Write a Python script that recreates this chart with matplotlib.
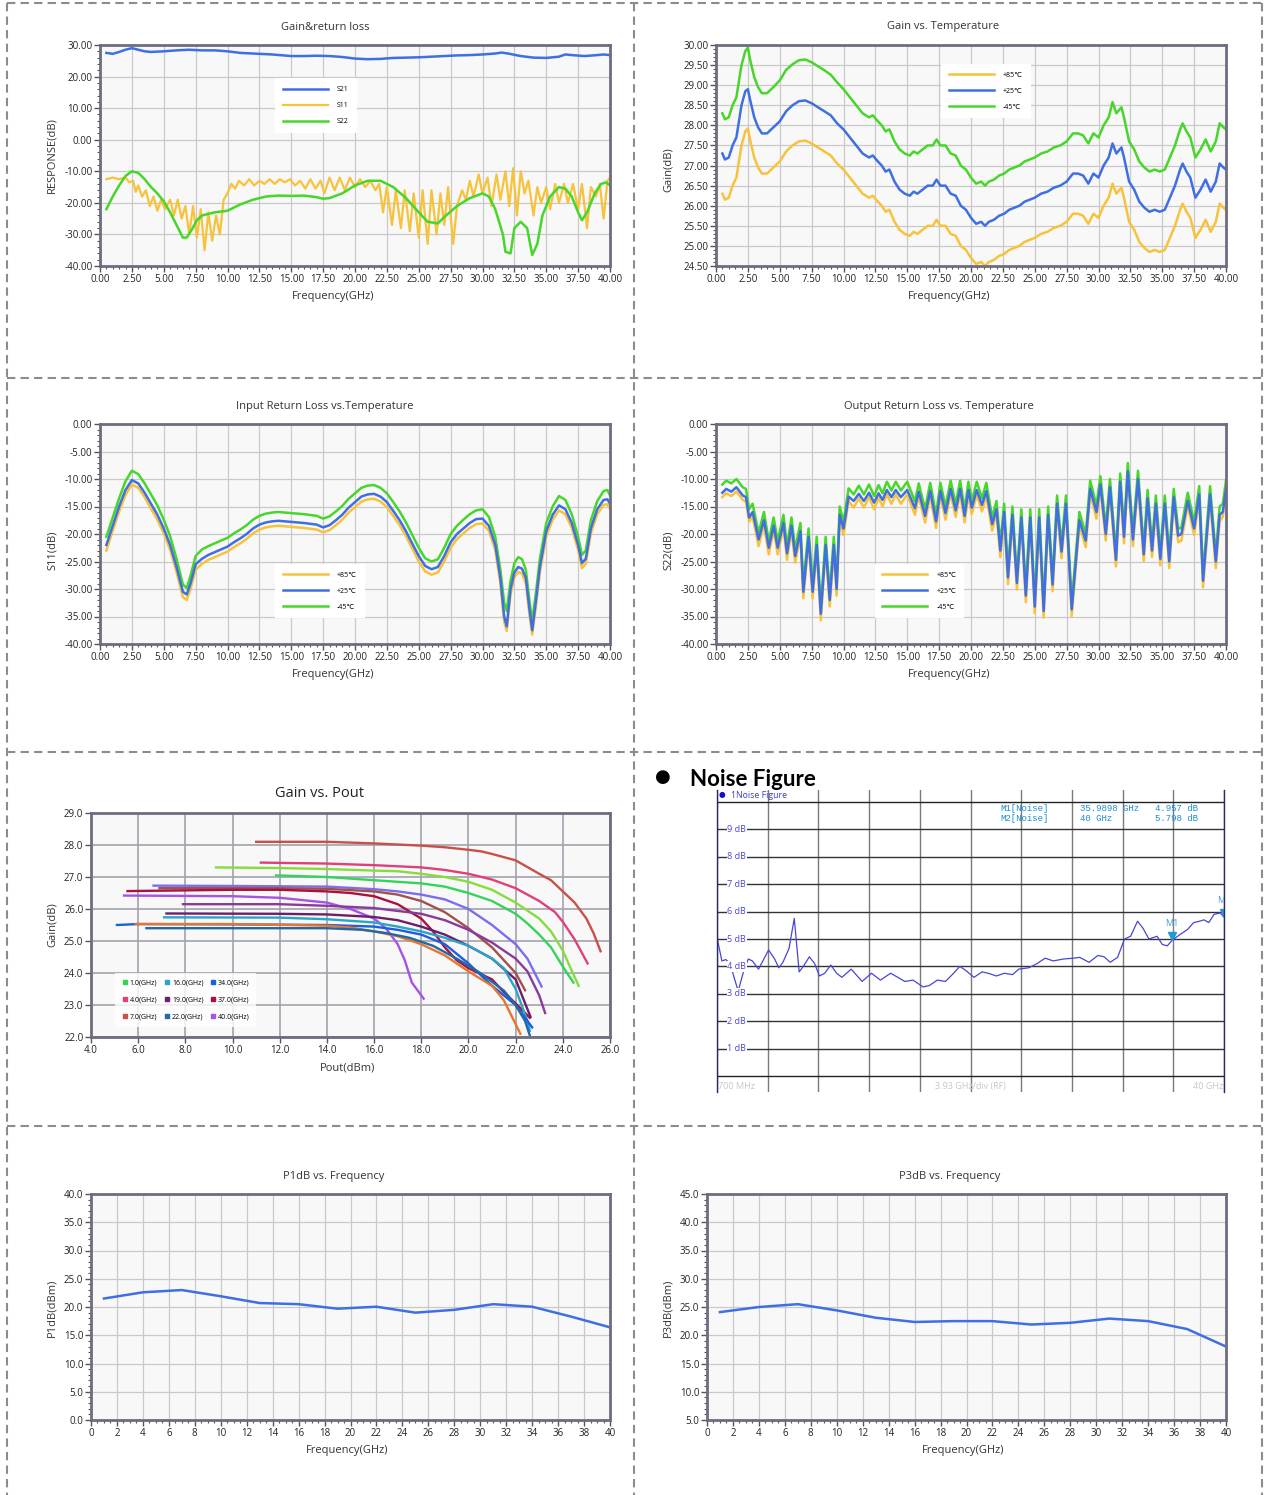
import numpy as np
import matplotlib
matplotlib.use('Agg')
import matplotlib.pyplot as plt
from matplotlib.lines import Line2D
from matplotlib.ticker import MultipleLocator, FormatStrFormatter
from matplotlib.transforms import offset_copy

W, H = 1272, 1495
plt.rcParams['font.family'] = ['Open Sans', 'DejaVu Sans']

BLUE = '#3f6fe3'
YELLOW = '#f7c23c'
GREEN = '#47d62a'
FACE = '#f8f8f8'
GRID = '#c9c9c9'
SPINE = '#6d6d80'

# ---- Gain & return loss ----
s21_f = [0.5, 1.0, 1.5, 2.0, 2.5, 3.0, 3.5, 4.0, 5.0, 6.0, 7.0, 8.0, 9.0, 10.0, 11.0, 12.5, 13.5, 15.0, 16.0, 17.0,
         18.0, 19.0, 20.0, 21.0, 22.0, 23.0, 24.0, 25.0, 26.0, 27.0, 28.0, 29.0, 30.0, 31.0, 31.5, 32.0, 33.0, 34.0,
         35.0, 36.0, 36.5, 37.0, 38.0, 39.0, 39.5, 40.0]
s21 = [27.5, 27.2, 27.8, 28.5, 29.0, 28.5, 28.0, 27.8, 28.0, 28.3, 28.5, 28.3, 28.3, 28.0, 27.5, 27.2, 27.0, 26.5,
       26.5, 26.6, 26.5, 26.2, 25.7, 25.5, 25.6, 25.9, 26.0, 26.1, 26.3, 26.5, 26.7, 26.8, 27.0, 27.3, 27.6, 27.3,
       26.5, 26.0, 25.9, 26.3, 27.0, 26.8, 26.5, 26.8, 27.0, 26.8]
s11_f = [0.5, 1.0, 1.5, 2.0, 2.3, 2.6, 2.8, 3.0, 3.3, 3.6, 3.9, 4.2, 4.5, 4.8, 5.1, 5.5, 5.8, 6.1, 6.4, 6.7,
         7.0, 7.3, 7.6, 7.9, 8.2, 8.5, 8.8, 9.1, 9.4, 9.7, 10.0, 10.3, 10.6, 10.9, 11.3, 11.7, 12.1, 12.5, 12.9, 13.3,
         13.7, 14.1, 14.5, 14.9, 15.3, 15.7, 16.1, 16.5, 16.9, 17.3, 17.6, 18.0, 18.4, 18.8, 19.2, 19.6, 20.0, 20.4,
         20.8, 21.2, 21.6, 21.9, 22.2, 22.5, 22.9, 23.2, 23.6, 23.9, 24.3, 24.6, 25.0, 25.3, 25.7, 26.0, 26.4, 26.7,
         27.0, 27.3, 27.7, 28.0, 28.4, 28.7, 29.0, 29.3, 29.7, 30.0, 30.4, 30.7, 31.1, 31.4, 31.8, 32.1, 32.4, 32.7,
         33.0, 33.3, 33.6, 34.0, 34.3, 34.6, 35.0, 35.3, 35.7, 36.0, 36.4, 36.7, 37.1, 37.5, 37.8, 38.2, 38.5, 38.9,
         39.2, 39.5, 39.8, 40.0]
s11 = [-12.5, -12, -12.5, -12, -13.5, -13, -16.5, -14.5, -18, -16, -21, -18, -22.5, -19, -22, -19, -24, -19, -25, -21,
       -30, -21, -31, -22, -35, -23, -32, -24, -30, -19, -17, -14, -15.5, -13, -14.5, -12.5, -14.5, -13, -14, -12.5,
       -14, -12.5, -13.5, -12.5, -14.5, -13, -15.5, -12.5, -15.5, -13, -17, -12, -16, -12, -16, -12, -15, -12.5,
       -15, -13, -16, -14, -23, -15, -27, -16, -28, -16, -29, -17, -31, -16, -33, -16, -30, -17,
       -27, -15, -33, -21, -16, -19, -13, -18, -11, -17, -12, -21, -11, -19, -10, -21, -9, -24,
       -10, -17, -13, -24, -15, -20, -15, -22, -14, -20, -14, -20, -14, -22, -14, -28, -15, -18,
       -14, -25, -13, -12]
s22_f = [0.5, 1.0, 1.5, 2.0, 2.5, 3.0, 3.5, 4.0, 4.5, 5.0, 5.5, 6.0, 6.5, 6.8, 7.2, 7.6, 8.0, 8.5, 9.0, 10.0,
         11.0, 12.0, 13.0, 14.0, 15.0, 16.0, 17.0, 17.5, 18.0, 19.0, 20.0, 21.0, 22.0, 23.0, 24.0, 25.0, 25.7, 26.5,
         27.0, 28.0, 29.0, 30.0, 30.5, 31.0, 31.6, 31.8, 32.2, 32.5, 33.0, 33.5, 33.9, 34.3, 34.7, 35.3, 36.0, 36.5,
         37.0, 37.5, 37.8, 38.2, 38.8, 39.3, 39.7, 40.0]
s22 = [-22, -18, -14.5, -11.5, -10, -10.5, -12.5, -15, -17, -19.5, -23, -27, -31, -31, -28.5, -25.5, -24, -23.5, -23,
       -22.5, -20.5, -19, -18, -17.7, -17.8, -17.7, -18.2, -18.7, -18.5, -17, -14.5, -13, -13, -15, -18.5, -23, -26,
       -26.5, -24.5, -21, -18.5, -17, -18, -22, -30, -35.5, -36, -28, -26, -28, -36.5, -33, -24, -18, -15, -15.5,
       -18, -23, -25.5, -23, -17, -14, -13.5, -14.5]

# ---- Gain vs temperature ----
gt_f = [0.5, 0.7, 1.0, 1.3, 1.6, 2.0, 2.3, 2.5, 2.7, 3.0, 3.3, 3.6, 4.0, 4.5, 5.0, 5.5, 6.0, 6.5, 7.0, 7.5,
        8.0, 8.5, 9.0, 9.5, 10.0, 10.5, 11.0, 11.5, 12.0, 12.3, 12.7, 13.0, 13.3, 13.6, 14.0, 14.4, 14.8, 15.2, 15.5,
        15.8, 16.2, 16.6, 17.0, 17.3, 17.6, 18.0, 18.4, 18.8, 19.2, 19.6, 20.0, 20.4, 20.8, 21.1, 21.4, 21.8, 22.2,
        22.6, 23.0, 23.4, 23.8, 24.2, 24.6, 25.0, 25.5, 26.0, 26.5, 27.0, 27.5, 28.0, 28.4, 28.8, 29.2, 29.6, 30.0,
        30.4, 30.8, 31.1, 31.4, 31.8, 32.0, 32.4, 32.8, 33.2, 33.6, 34.0, 34.4, 34.8, 35.2, 35.6, 36.0, 36.4, 36.6,
        36.9, 37.2, 37.6, 38.0, 38.4, 38.8, 39.2, 39.5, 39.8, 40.0]
gt_p25 = [27.3, 27.15, 27.2, 27.5, 27.7, 28.5, 28.85, 28.9, 28.6, 28.2, 27.95, 27.8, 27.8, 27.95, 28.1, 28.35, 28.5,
          28.6, 28.62, 28.55, 28.45, 28.35, 28.25, 28.05, 27.9, 27.7, 27.5, 27.3, 27.2, 27.25, 27.1, 27.0, 26.85,
          26.9, 26.6, 26.4, 26.3, 26.25, 26.35, 26.3, 26.4, 26.5, 26.5, 26.65, 26.5, 26.5, 26.3, 26.25, 26.0, 25.9,
          25.7, 25.55, 25.6, 25.5, 25.6, 25.65, 25.75, 25.8, 25.9, 25.95, 26.0, 26.1, 26.15, 26.2, 26.3, 26.35,
          26.45, 26.5, 26.6, 26.8, 26.8, 26.75, 26.55, 26.8, 26.7, 27.0, 27.2, 27.55, 27.3, 27.45, 27.2, 26.6, 26.4,
          26.1, 25.95, 25.85, 25.9, 25.85, 25.9, 26.2, 26.5, 26.9, 27.05, 26.85, 26.7, 26.2, 26.4, 26.65, 26.35,
          26.6, 27.05, 26.95, 26.9]
gt_m45 = [28.3, 28.15, 28.2, 28.5, 28.7, 29.5, 29.85, 29.93, 29.6, 29.2, 28.95, 28.8, 28.8, 28.95, 29.12, 29.38,
          29.52, 29.62, 29.64, 29.57, 29.47, 29.37, 29.26, 29.07, 28.9, 28.7, 28.5, 28.3, 28.2, 28.25, 28.1, 28.0,
          27.85, 27.9, 27.6, 27.4, 27.3, 27.25, 27.35, 27.3, 27.4, 27.5, 27.5, 27.65, 27.5, 27.5, 27.3, 27.25, 27.0,
          26.9, 26.7, 26.55, 26.6, 26.5, 26.6, 26.65, 26.75, 26.8, 26.9, 26.95, 27.0, 27.1, 27.15, 27.2, 27.3, 27.35,
          27.45, 27.5, 27.6, 27.8, 27.8, 27.75, 27.55, 27.8, 27.7, 28.0, 28.2, 28.58, 28.3, 28.45, 28.2, 27.6, 27.4,
          27.1, 26.95, 26.85, 26.9, 26.85, 26.9, 27.2, 27.5, 27.9, 28.05, 27.85, 27.7, 27.2, 27.4, 27.65, 27.35,
          27.6, 28.05, 27.95, 27.9]
gt_p85 = [26.3, 26.15, 26.2, 26.5, 26.7, 27.5, 27.85, 27.92, 27.6, 27.2, 26.95, 26.8, 26.8, 26.95, 27.1, 27.35, 27.5,
          27.6, 27.62, 27.55, 27.45, 27.35, 27.25, 27.05, 26.9, 26.7, 26.5, 26.3, 26.2, 26.25, 26.1, 26.0, 25.85,
          25.9, 25.6, 25.4, 25.3, 25.25, 25.35, 25.3, 25.4, 25.5, 25.5, 25.65, 25.5, 25.5, 25.3, 25.25, 25.0, 24.9,
          24.7, 24.55, 24.6, 24.5, 24.6, 24.65, 24.75, 24.8, 24.9, 24.95, 25.0, 25.1, 25.15, 25.2, 25.3, 25.35,
          25.45, 25.5, 25.6, 25.8, 25.8, 25.75, 25.55, 25.8, 25.7, 26.0, 26.2, 26.55, 26.3, 26.45, 26.2, 25.6, 25.4,
          25.1, 24.95, 24.85, 24.9, 24.85, 24.9, 25.2, 25.5, 25.9, 26.05, 25.85, 25.7, 25.2, 25.4, 25.65, 25.35,
          25.6, 26.05, 25.95, 25.9]

# ---- Input return loss vs temperature ----
irl_f = [0.5, 1.0, 1.5, 2.0, 2.5, 3.0, 3.5, 4.0, 4.5, 5.0, 5.5, 6.0, 6.5, 6.8, 7.1, 7.5, 8.0, 8.5, 9.0, 9.5,
         10.0, 10.5, 11.0, 11.5, 12.0, 12.5, 13.0, 13.5, 14.0, 15.0, 16.0, 17.0, 17.5, 18.0, 18.5, 19.0, 19.5, 20.0,
         20.5, 21.0, 21.5, 22.0, 22.5, 23.0, 23.5, 24.0, 24.5, 25.0, 25.5, 26.0, 26.5, 27.0, 27.5, 28.0, 28.5, 29.0,
         29.5, 30.0, 30.5, 31.0, 31.4, 31.7, 31.9, 32.2, 32.5, 32.8, 33.1, 33.4, 33.7, 33.9, 34.2, 34.5, 35.0, 35.5,
         36.0, 36.5, 37.0, 37.5, 37.8, 38.1, 38.5, 39.0, 39.5, 39.8, 40.0]
irl_p25 = [-22, -18.5, -15, -12, -10.2, -10.8, -12.5, -14.5, -16.5, -19, -22, -26, -30.5, -31, -29, -25.5, -24.5,
           -23.8, -23.3, -22.8, -22.3, -21.5, -20.8, -20, -19, -18.3, -17.9, -17.7, -17.6, -17.8, -18, -18.3, -18.8,
           -18.4, -17.5, -16.5, -15.2, -14.2, -13.2, -12.8, -12.7, -13.2, -14.2, -15.8, -17.5, -19.5, -21.8, -24,
           -25.8, -26.4, -26, -24, -21.5, -20, -19, -18, -17.3, -17.2, -18.5, -22, -28, -35, -36.8, -30, -27, -26,
           -26.3, -28, -34, -37.5, -32, -26, -19.5, -16.5, -14.8, -15.5, -18, -22, -25.3, -24.5, -19, -15.5, -13.8,
           -13.7, -14.5]
irl_m45 = [-20.5, -17, -13.5, -10.4, -8.5, -9.1, -10.8, -12.8, -14.8, -17.4, -20.4, -24.5, -29.2, -29.8, -27.6, -24,
           -22.8, -22.2, -21.7, -21.2, -20.7, -19.9, -19.2, -18.4, -17.4, -16.7, -16.3, -16.1, -16, -16.2, -16.4,
           -16.7, -17.2, -16.8, -15.9, -14.9, -13.6, -12.6, -11.6, -11.2, -11.1, -11.6, -12.6, -14.2, -15.9, -17.9,
           -20.2, -22.5, -24.4, -25, -24.6, -22.5, -20, -18.5, -17.4, -16.4, -15.7, -15.5, -16.9, -20.5, -26.5,
           -32.5, -34, -28.5, -25.3, -24.2, -24.6, -26.5, -32.5, -35.8, -30.5, -24.5, -18, -15, -13.1, -13.8, -16.4,
           -20.5, -23.8, -23, -17.5, -14, -12.2, -12, -13]
irl_p85 = [-23, -19.4, -15.9, -12.9, -11, -11.6, -13.3, -15.4, -17.4, -19.9, -22.9, -26.9, -31.5, -32, -30, -26.5,
           -25.4, -24.7, -24.2, -23.7, -23.2, -22.4, -21.7, -20.9, -19.9, -19.2, -18.8, -18.6, -18.5, -18.7, -18.9,
           -19.2, -19.7, -19.3, -18.4, -17.4, -16.1, -15.1, -14.1, -13.7, -13.6, -14.1, -15.1, -16.7, -18.4, -20.4,
           -22.7, -25, -26.8, -27.4, -27, -25, -22.5, -20.9, -19.9, -18.9, -18.2, -18.1, -19.4, -22.9, -29, -36,
           -37.6, -31, -27.9, -26.9, -27.2, -29, -35, -38.3, -33, -27, -20.4, -17.4, -15.7, -16.4, -18.9, -22.9,
           -26.2, -25.4, -19.9, -16.4, -14.7, -14.6, -15.4]

# ---- Output return loss vs temperature ----
orl_f = [0.5, 0.8, 1.2, 1.6, 2.1, 2.35, 2.6, 2.87,
         3.34, 3.76, 4.14, 4.52, 4.84, 5.29, 5.57, 5.92, 6.21, 6.62, 6.85, 7.26, 7.58, 7.9, 8.22, 8.6, 8.92, 9.24, 9.46,
         9.7, 10.0, 10.4, 10.8, 11.2, 11.6, 12.0, 12.4, 12.75, 13.06, 13.4, 13.76, 14.1, 14.5, 15.0, 15.6, 15.9, 16.4,
         16.8, 17.26, 17.6, 18.0, 18.4, 18.8, 19.15, 19.5, 19.8, 20.06, 20.45, 20.86, 21.2, 21.66,
         22.0, 22.3, 22.6, 22.9, 23.25, 23.6, 23.95, 24.3, 24.65, 25.0, 25.35, 25.7, 26.05, 26.4, 26.75, 27.1, 27.45,
         27.9, 28.5,
         29.0, 29.35, 29.84, 30.15, 30.57, 30.9, 31.37, 31.7, 32.0, 32.3, 32.7, 33.1, 33.55, 33.85, 34.2, 34.5, 34.85,
         35.2, 35.55, 35.9, 36.25, 36.5, 37.0, 37.5, 37.9, 38.2, 38.75, 39.2, 39.5, 39.75, 40.0]
orl_p25 = [-12.5, -11.8, -12.3, -11.5, -13, -13.3, -17, -16,
           -21, -17.5, -22.5, -18.5, -22.5, -18, -23.5, -18.5, -24, -19.5, -30.5, -20.5, -30.5, -22, -34.5, -22, -32,
           -22, -30,
           -16.5, -19, -13.2, -14, -12.7, -14, -12.5, -14.3, -12.6, -13.8, -12, -13.3, -12, -13.3, -12, -15.3, -12.3,
           -16.7, -12.2, -17.7, -12.2, -16.2, -11.8, -15.7, -11.8, -16.7, -12, -15.2, -12, -14.7, -12.2, -18.2,
           -15.5, -23, -16, -27.9, -16.5, -28.9, -17, -31.2, -17, -33.2, -17, -34, -16.5, -29.2, -14.5, -23.2, -14.5,
           -33.7, -17.5,
           -21.2, -11.8, -16, -11, -20, -11.5, -24.7, -10.5, -20.5, -8.6, -21, -10, -23.7, -13.5, -23, -14.5, -24.5,
           -14.5, -25, -13.3, -20.3, -20, -14, -19, -12.8, -28.5, -12.8, -25, -16.5, -16, -11.8]
orl_m45 = [-11, -10.3, -10.8, -10, -11.5, -11.8, -15.5, -14.5,
           -19.8, -16, -21.3, -17, -21.3, -16.5, -22.3, -17, -22.8, -18, -29.3, -19, -29.3, -20.5, -33.3, -20.5, -30.8,
           -20.5, -28.8,
           -15, -17.8, -11.7, -12.8, -11.2, -12.8, -11, -13.1, -11.1, -12.6, -10.5, -12.1, -10.5, -12.1, -10.5, -14.1,
           -10.8, -15.5, -10.7, -16.5, -10.7, -15, -10.3, -14.5, -10.3, -15.5, -10.5, -14, -10.5, -13.5, -10.7, -17,
           -14, -21.8, -14.5, -26.7, -15, -27.7, -15.5, -30, -15.5, -32, -15.5, -32.8, -15, -28, -13, -22, -13, -32.5,
           -16,
           -20, -10.3, -14.8, -9.5, -18.8, -10, -23.5, -9, -19.3, -7.1, -19.8, -8.5, -22.5, -12, -21.8, -13, -23.3,
           -13, -23.8, -11.8, -19.1, -18.8, -12.5, -17.8, -11.3, -27.3, -11.3, -23.8, -15, -14.5, -10.3]
orl_p85 = [-13.3, -12.6, -13.1, -12.3, -13.8, -14.1, -17.8, -16.8,
           -22.2, -18.3, -23.7, -19.3, -23.7, -18.8, -24.7, -19.3, -25.2, -20.3, -31.7, -21.3, -31.7, -22.8, -35.7,
           -22.8, -33.2, -22.8, -31.2,
           -17.3, -20.2, -14, -15.2, -13.5, -15.2, -13.3, -15.5, -13.4, -15, -12.8, -14.5, -12.8, -14.5, -12.8, -16.5,
           -13.1, -17.9, -13, -18.9, -13, -17.4, -12.6, -16.9, -12.6, -17.9, -12.8, -16.4, -12.8, -15.9, -13, -19.4,
           -16.3, -24.2, -16.8, -29.1, -17.3, -30.1, -17.8, -32.4, -17.8, -34.4, -17.8, -35.2, -17.3, -30.4, -15.3,
           -24.4, -15.3, -34.9, -18.3,
           -22.4, -12.6, -17.2, -11.8, -21.2, -12.3, -25.9, -11.3, -21.7, -9.4, -22.2, -10.8, -24.9, -14.3, -24.2,
           -15.3, -25.7, -15.3, -26.2, -14.1, -21.5, -21.2, -14.8, -20.2, -13.6, -29.7, -13.6, -26.2, -17.7, -16.8,
           -12.6]

# ---- Gain vs Pout (x = Pout dBm, y = gain dB) ----
gp_7_x = [11.0, 14.0, 16.0, 18.0, 19.0, 20.0, 20.55, 21.0, 22.0, 23.0, 23.5, 24.0, 24.5, 25.0, 25.3, 25.6]
gp_7_y = [28.1, 28.1, 28.05, 27.98, 27.93, 27.85, 27.8, 27.72, 27.52, 27.1, 26.9, 26.55, 26.2, 25.7, 25.25, 24.68]
gp_4_x = [11.2, 14.0, 16.0, 18.0, 19.0, 20.0, 21.0, 22.0, 22.5, 23.0, 23.67, 24.0, 24.5, 25.05]
gp_4_y = [27.45, 27.42, 27.37, 27.3, 27.22, 27.1, 26.92, 26.65, 26.45, 26.25, 25.9, 25.6, 25.05, 24.3]
gp_lg_x = [9.3, 12.0, 14.0, 16.0, 17.0, 18.0, 19.0, 20.0, 21.0, 22.0, 22.5, 23.0, 23.5, 24.0, 24.3, 24.67]
gp_lg_y = [27.3, 27.28, 27.25, 27.2, 27.18, 27.1, 27.0, 26.85, 26.6, 26.2, 25.95, 25.7, 25.3, 24.7, 24.2, 23.6]
gp_1_x = [11.85, 14.0, 16.0, 18.0, 19.0, 20.0, 21.0, 22.0, 22.5, 23.0, 23.5, 24.0, 24.45]
gp_1_y = [27.05, 27.0, 26.9, 26.8, 26.7, 26.5, 26.25, 25.85, 25.55, 25.2, 24.8, 24.2, 23.7]
gp_lav_x = [6.65, 10.0, 14.0, 16.0, 17.0, 18.0, 19.0, 20.0, 21.0, 22.0, 22.5, 23.1]
gp_lav_y = [26.73, 26.72, 26.7, 26.62, 26.55, 26.45, 26.3, 26.0, 25.5, 24.9, 24.45, 23.58]
gp_br_x = [6.9, 12.0, 14.0, 16.0, 17.0, 18.0, 19.0, 20.0, 21.0, 22.0, 22.4]
gp_br_y = [26.65, 26.65, 26.63, 26.55, 26.45, 26.25, 25.9, 25.4, 24.8, 24.0, 23.46]
gp_37_x = [5.55, 10.0, 12.0, 14.0, 15.0, 16.0, 17.0, 18.0, 18.5, 19.0, 19.5, 20.0, 21.0, 21.5, 22.0, 22.6]
gp_37_y = [26.56, 26.6, 26.6, 26.55, 26.5, 26.4, 26.15, 25.7, 25.3, 24.8, 24.4, 24.15, 23.8, 23.4, 23.05, 22.6]
gp_40_x = [5.4, 10.0, 12.0, 14.0, 15.0, 16.0, 16.5, 17.0, 17.3, 17.6, 18.1]
gp_40_y = [26.42, 26.4, 26.35, 26.2, 26.0, 25.7, 25.4, 24.9, 24.4, 23.7, 23.2]
gp_pu_x = [7.9, 12.0, 14.0, 16.0, 18.0, 19.0, 20.0, 21.0, 22.0, 22.5, 23.0, 23.25]
gp_pu_y = [26.15, 26.15, 26.1, 26.03, 25.85, 25.65, 25.35, 24.95, 24.45, 24.05, 23.3, 22.75]
gp_19_x = [7.2, 12.0, 14.0, 16.0, 17.0, 18.0, 19.0, 20.0, 21.0, 22.0, 22.63]
gp_19_y = [25.86, 25.85, 25.83, 25.75, 25.65, 25.45, 25.2, 24.85, 24.45, 23.8, 22.63]
gp_16_x = [7.1, 12.0, 14.0, 16.0, 17.0, 18.0, 19.0, 20.0, 21.0, 21.5, 22.0, 22.5, 22.6]
gp_16_y = [25.74, 25.73, 25.68, 25.58, 25.45, 25.3, 25.1, 24.85, 24.45, 24.15, 23.5, 22.5, 22.2]
gp_34_x = [5.1, 6.0, 10.0, 14.0, 16.0, 17.0, 18.0, 19.0, 20.0, 21.0, 22.0, 22.5, 22.7]
gp_34_y = [25.5, 25.53, 25.52, 25.5, 25.45, 25.35, 25.2, 24.9, 24.3, 23.6, 23.0, 22.5, 22.3]
gp_or_x = [5.9, 10.0, 14.0, 15.0, 16.0, 17.0, 18.0, 19.0, 20.0, 21.0, 21.5, 22.0, 22.2]
gp_or_y = [25.53, 25.53, 25.48, 25.42, 25.3, 25.15, 24.9, 24.55, 24.05, 23.6, 23.15, 22.4, 22.1]
gp_22_x = [6.35, 10.0, 14.0, 15.5, 16.5, 17.5, 18.5, 19.5, 20.5, 21.5, 22.0, 22.4, 22.6]
gp_22_y = [25.4, 25.4, 25.4, 25.35, 25.25, 25.1, 24.85, 24.45, 24.0, 23.45, 23.0, 22.5, 22.05]
gp_legend = ['1.0(GHz)', '4.0(GHz)', '7.0(GHz)', '16.0(GHz)', '19.0(GHz)', '22.0(GHz)',
             '34.0(GHz)', '37.0(GHz)', '40.0(GHz)']

# ---- Noise figure ----
nf_f = [0.7, 1.08, 1.39, 1.71, 2.34, 2.81, 3.13, 3.44, 3.92, 4.7, 5.17, 5.49, 5.81, 6.28, 6.69, 7.07, 7.39, 7.86,
        8.27, 8.64, 9.05, 9.52, 9.97, 10.38, 11.1, 11.95, 12.67, 13.37, 14.16, 14.72, 15.26, 15.89, 16.68, 17.15,
        17.78, 18.41, 19.04, 19.52, 19.99, 20.62, 21.25, 21.72, 22.35, 22.98, 23.61, 24.09, 24.87, 25.5, 26.13,
        26.77, 27.55, 28.34, 28.81, 29.54, 30.23, 30.71, 31.18, 31.75, 32.29, 32.76, 33.3, 33.71, 34.18, 34.81,
        35.22, 35.6, 35.99, 36.55, 37.18, 37.65, 38.12, 38.44, 38.82, 39.23, 39.71, 40.0]
nf_db = [5.05, 4.2, 4.25, 4.1, 3.1, 3.9, 4.27, 4.2, 3.9, 4.6, 4.27, 3.95, 4.15, 4.65, 5.75, 3.8, 4.0, 4.35,
         4.1, 3.65, 3.75, 4.05, 3.75, 3.6, 3.9, 3.45, 3.75, 3.5, 3.75, 3.6, 3.45, 3.5, 3.25, 3.3,
         3.5, 3.45, 3.75, 4.0, 3.85, 3.6, 3.8, 3.75, 3.65, 3.75, 3.7, 3.9, 3.95, 4.1, 4.3,
         4.2, 4.27, 4.3, 4.33, 4.15, 4.4, 4.35, 4.15, 4.33, 5.0, 5.1, 5.65, 5.4, 5.0, 5.1,
         4.8, 4.75, 4.957, 5.15, 5.35, 5.6, 5.65, 5.7, 5.6, 5.9, 5.95, 5.798]
nf_markers = ['M1', 'M2']
nf_marker_f = [35.9898, 40.0]
nf_marker_db = [4.957, 5.798]

# ---- P1dB / P3dB ----
pw_f = [1, 4, 7, 10, 13, 16, 19, 22, 25, 28, 31, 34, 37, 40]
p1db = [21.5, 22.6, 23.0, 21.9, 20.7, 20.5, 19.7, 20.05, 19.0, 19.5, 20.5, 20.05, 18.3, 16.4]
p3db = [24.1, 25.0, 25.5, 24.4, 23.1, 22.35, 22.5, 22.5, 21.9, 22.2, 22.95, 22.5, 21.1, 18.0]


fig = plt.figure(figsize=(W / 100, H / 100), dpi=100)
fig.patch.set_facecolor('white')


def px_axes(left, top, right, bottom):
    return fig.add_axes([left / W, 1 - bottom / H, (right - left) / W, (bottom - top) / H])


def ftext(x, y, s, **kw):
    kw.setdefault('ha', 'center')
    kw.setdefault('va', 'center')
    return fig.text(x / W, 1 - y / H, s, **kw)


def style_chart(ax, xlim, ylim, xmaj, xmin, ymaj, ymin, xfmt, yfmt, grid=GRID):
    ax.set_facecolor(FACE)
    ax.set_xlim(*xlim)
    ax.set_ylim(*ylim)
    ax.xaxis.set_major_locator(MultipleLocator(xmaj))
    ax.yaxis.set_major_locator(MultipleLocator(ymaj))
    if xmin:
        ax.xaxis.set_minor_locator(MultipleLocator(xmin))
    if ymin:
        ax.yaxis.set_minor_locator(MultipleLocator(ymin))
    ax.xaxis.set_major_formatter(FormatStrFormatter(xfmt))
    ax.yaxis.set_major_formatter(FormatStrFormatter(yfmt))
    ax.grid(True, which='major', color=grid, lw=0.9)
    ax.set_axisbelow(True)
    for s in ax.spines.values():
        s.set_color(SPINE)
        s.set_linewidth(2)
    ax.tick_params(which='both', direction='out', color='#555555', labelcolor='#222222',
                   labelsize=7, pad=1.5)
    ax.tick_params(which='major', length=4, width=1)
    ax.tick_params(which='minor', length=2, width=0.8)


def line_legend(ax, handles, labels, x, y):
    leg = ax.legend(handles, labels, loc='upper left', bbox_to_anchor=(x, y), fontsize=5,
                    handlelength=6.5, handletextpad=1.3, labelspacing=1.3, borderpad=1.1,
                    frameon=True, fancybox=False)
    leg.get_frame().set_facecolor('white')
    leg.get_frame().set_edgecolor('none')
    leg.get_frame().set_alpha(1)
    return leg


temp_labels = ['+85\u2103', '+25\u2103', '-45\u2103']

# Panel 1: Gain & return loss
ax = px_axes(100, 45, 610, 266)
style_chart(ax, (0, 40), (-40, 30), 2.5, 0.5, 10, 2, '%.2f', '%.2f')
l21, = ax.plot(s21_f, s21, color=BLUE, lw=1.8)
l11, = ax.plot(s11_f, s11, color=YELLOW, lw=1.6)
l22, = ax.plot(s22_f, s22, color=GREEN, lw=1.8)
line_legend(ax, [l21, l11, l22], ['S21', 'S11', 'S22'], 0.337, 0.865)
ftext(325, 27, 'Gain&return loss', fontsize=8, color='#333333')
ftext(333, 297, 'Frequency(GHz)', fontsize=8, color='#333333')
ftext(52, 155, 'RESPONSE(dB)', fontsize=8, color='#333333', rotation=90)

# Panel 2: Gain vs temperature
ax = px_axes(716, 45, 1226, 266)
style_chart(ax, (0, 40), (24.5, 30), 2.5, 0.5, 0.5, 0.1, '%.2f', '%.2f')
a, = ax.plot(gt_f, gt_p85, color=YELLOW, lw=1.8)
b, = ax.plot(gt_f, gt_p25, color=BLUE, lw=1.8)
c, = ax.plot(gt_f, gt_m45, color=GREEN, lw=1.8)
line_legend(ax, [a, b, c], temp_labels, 0.435, 0.93)
ftext(943, 27, 'Gain vs. Temperature', fontsize=8, color='#333333')
ftext(949, 297, 'Frequency(GHz)', fontsize=8, color='#333333')
ftext(668, 170, 'Gain(dB)', fontsize=8, color='#333333', rotation=90)

# Panel 3: Input return loss
ax = px_axes(100, 424, 610, 644)
style_chart(ax, (0, 40), (-40, 0), 2.5, 0.5, 5, 1, '%.2f', '%.2f')
a, = ax.plot(irl_f, irl_p85, color=YELLOW, lw=1.8)
c, = ax.plot(irl_f, irl_m45, color=GREEN, lw=1.8)
b, = ax.plot(irl_f, irl_p25, color=BLUE, lw=1.8)
line_legend(ax, [a, b, c], temp_labels, 0.337, 0.38)
ftext(325, 406, 'Input Return Loss vs.Temperature', fontsize=8, color='#333333')
ftext(333, 675, 'Frequency(GHz)', fontsize=8, color='#333333')
ftext(52, 550, 'S11(dB)', fontsize=8, color='#333333', rotation=90)

# Panel 4: Output return loss
ax = px_axes(716, 424, 1226, 644)
style_chart(ax, (0, 40), (-40, 0), 2.5, 0.5, 5, 1, '%.2f', '%.2f')
a, = ax.plot(orl_f, orl_p85, color=YELLOW, lw=1.8)
c, = ax.plot(orl_f, orl_m45, color=GREEN, lw=1.8)
b, = ax.plot(orl_f, orl_p25, color=BLUE, lw=1.8)
line_legend(ax, [a, b, c], temp_labels, 0.304, 0.38)
ftext(939, 406, 'Output Return Loss vs. Temperature', fontsize=8, color='#333333')
ftext(949, 675, 'Frequency(GHz)', fontsize=8, color='#333333')
ftext(668, 550, 'S22(dB)', fontsize=8, color='#333333', rotation=90)

# Panel 5: Gain vs Pout
ax = px_axes(91, 813, 610, 1037)
style_chart(ax, (4, 26), (22, 29), 2, None, 1, None, '%.1f', '%.1f', grid='#a2a2ae')
ax.grid(True, which='major', color='#a2a2ae', lw=1.2)
gp_curves = [
    (gp_7_x, gp_7_y, '#c8504a'),
    (gp_4_x, gp_4_y, '#e0407a'),
    (gp_lg_x, gp_lg_y, '#86dc3c'),
    (gp_1_x, gp_1_y, '#33d45a'),
    (gp_lav_x, gp_lav_y, '#7a6ef0'),
    (gp_br_x, gp_br_y, '#a2504e'),
    (gp_37_x, gp_37_y, '#a8123f'),
    (gp_40_x, gp_40_y, '#a652e6'),
    (gp_pu_x, gp_pu_y, '#8a3a9a'),
    (gp_19_x, gp_19_y, '#6b1f6b'),
    (gp_16_x, gp_16_y, '#2aa5c8'),
    (gp_34_x, gp_34_y, '#1c5ee0'),
    (gp_or_x, gp_or_y, '#e8762a'),
    (gp_22_x, gp_22_y, '#2068a8'),
]
for xs, ys, col in gp_curves:
    ax.plot(xs, ys, color=col, lw=1.7)
gp_colors = ['#33d45a', '#e0407a', '#c8504a', '#2aa5c8', '#6b1f6b', '#2068a8', '#1c5ee0', '#a8123f', '#a652e6']
handles = [Line2D([], [], marker='s', ls='none', color=cc, markersize=3.5) for cc in gp_colors]
leg = ax.legend(handles, gp_legend, ncol=3, loc='upper left', bbox_to_anchor=(0.04, 0.299), fontsize=5,
                handletextpad=0.2, columnspacing=0.9, labelspacing=1.45, borderpad=0.9, frameon=True,
                fancybox=False, handlelength=1)
leg.get_frame().set_facecolor('white')
leg.get_frame().set_edgecolor('none')
ftext(319, 793, 'Gain vs. Pout', fontsize=10.5, color='#222222')
ftext(348, 1068, 'Pout(dBm)', fontsize=8, color='#333333')
ftext(52, 925, 'Gain(dB)', fontsize=8, color='#333333', rotation=90)

# Panel 6: Noise figure
ftext(663, 777, '\u25cf', fontsize=13, color='black')
ftext(690, 779, 'Noise Figure', fontsize=16, fontweight='bold', color='black', ha='left',
      family=['Lato', 'DejaVu Sans'])
ax = px_axes(717, 790, 1224, 1092)
ax.set_facecolor('white')
ax.set_xlim(0.7, 40)
ax.set_ylim(-(1092 - 1076) / 27.4, 10 + (802 - 790) / 27.4)
ax.set_xticks(np.linspace(0.7, 40, 11))
ax.set_yticks(range(1, 10))
ax.xaxis.grid(True, color='#7a7a7a', lw=1)
ax.yaxis.grid(True, color='#333333', lw=1)
ax.tick_params(which='both', length=0, labelbottom=False, labelleft=False)
ax.axhline(0, color='#222222', lw=1)
ax.axhline(10, color='#222222', lw=1)
for side in ['top', 'bottom']:
    ax.spines[side].set_visible(False)
for side in ['left', 'right']:
    ax.spines[side].set_color('#2a2a60')
    ax.spines[side].set_linewidth(1)
for v in range(1, 10):
    ax.text(1.5, v, '%d dB' % v, fontsize=6.5, color='#4848d8', va='center', ha='left',
            bbox=dict(facecolor='white', edgecolor='none', pad=0.6))
ax.plot(nf_f, nf_db, color='#4646d6', lw=0.9)
tri = offset_copy(ax.transData, fig=fig, y=3, units='points')
lab = offset_copy(ax.transData, fig=fig, y=9, units='points')
for name, mf, mdb in zip(nf_markers, nf_marker_f, nf_marker_db):
    ax.plot(mf, mdb, marker='v', color='#1f9ad6', ms=6, transform=tri)
    ax.text(mf, mdb, name, transform=lab, fontsize=6.5, color='#3aa0d8', ha='center', va='bottom',
            clip_on=True)
ax.text(0.85, 10.22, '\u25cf', fontsize=5.5, color='#1010c8', va='center', ha='left')
ax.text(1.75, 10.22, '1Noise Figure', fontsize=6.3, color='#3b3bd0', va='center', ha='left')
ax.text(0.75, -0.38, '700 MHz', fontsize=6.5, color='#c6c6c6', va='center', ha='left')
ax.text(20.35, -0.38, '3.93 GHz/div (RF)', fontsize=6.5, color='#c6c6c6', va='center', ha='center')
ax.text(39.95, -0.38, '40 GHz', fontsize=6.5, color='#c6c6c6', va='center', ha='right')
mono = ['Liberation Mono', 'DejaVu Sans Mono']
ftext(1000, 808, 'M1[Noise]', fontsize=6.5, color='#1c8fd2', ha='left', family=mono)
ftext(1000, 819, 'M2[Noise]', fontsize=6.5, color='#1c8fd2', ha='left', family=mono)
ftext(1080, 808, '35.9898 GHz', fontsize=6.5, color='#1c8fd2', ha='left', family=mono)
ftext(1080, 819, '40 GHz', fontsize=6.5, color='#1c8fd2', ha='left', family=mono)
ftext(1155, 808, '4.957 dB', fontsize=6.5, color='#1c8fd2', ha='left', family=mono)
ftext(1155, 819, '5.798 dB', fontsize=6.5, color='#1c8fd2', ha='left', family=mono)

# Panel 7: P1dB
ax = px_axes(91, 1194, 610, 1420)
style_chart(ax, (0, 40), (0, 40), 2, 0.5, 5, 1, '%d', '%.1f')
ax.plot(pw_f, p1db, color=BLUE, lw=1.8)
ftext(334, 1176, 'P1dB vs. Frequency', fontsize=8, color='#333333')
ftext(347, 1450, 'Frequency(GHz)', fontsize=8, color='#333333')
ftext(52, 1308, 'P1dB(dBm)', fontsize=8, color='#333333', rotation=90)

# Panel 8: P3dB
ax = px_axes(707, 1194, 1226, 1420)
style_chart(ax, (0, 40), (5, 45), 2, 0.5, 5, 1, '%d', '%.1f')
ax.plot(pw_f, p3db, color=BLUE, lw=1.8)
ftext(950, 1176, 'P3dB vs. Frequency', fontsize=8, color='#333333')
ftext(963, 1450, 'Frequency(GHz)', fontsize=8, color='#333333')
ftext(668, 1308, 'P3dB(dBm)', fontsize=8, color='#333333', rotation=90)

# dashed panel separators
def dline(x0, y0, x1, y1):
    fig.add_artist(Line2D([x0 / W, x1 / W], [1 - y0 / H, 1 - y1 / H], transform=fig.transFigure,
                          color='#8c8c8c', lw=1.5, ls=(0, (4, 2.5))))

dline(7, 3, 1262, 3)
dline(7, 3, 7, H)
dline(1262, 3, 1262, H)
dline(634, 3, 634, H)
for yy in [378, 752, 1126]:
    dline(7, yy, 1262, yy)

fig.savefig('out.png', dpi=100)
